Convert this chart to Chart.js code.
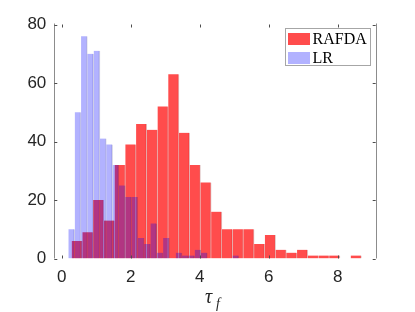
<!DOCTYPE html>
<html>
<head>
<meta charset="utf-8">
<script src="https://cdn.jsdelivr.net/npm/chart.js@4.4.1/dist/chart.umd.min.js"></script>
<style>
  html, body { margin: 0; padding: 0; background: #fff; }
  canvas { display: block; }
</style>
</head>
<body>
<canvas id="chart" width="415" height="312"></canvas>
<script>
// histogram counts, one entry per bin
const rafdaCounts = [6, 9, 20, 13, 32, 39, 46, 44, 52, 63, 43, 32, 26, 16, 10, 10, 10, 5, 8, 3, 2, 3, 1, 1, 1, 0, 1];
const lrCounts = [10, 50, 76, 70, 71, 41, 39, 32, 25, 21, 21, 7, 5, 12, 2, 7, 0, 2, 1, 1, 3, 2, 0, 0, 0, 0, 1];

// bin layout of each histogram (first edge and bin width, in tau_f units)
const rafdaBinStart = 0.29;
const rafdaBinWidth = 0.311;
const lrBinStart = 0.195;
const lrBinWidth = 0.183;

const seriesLabels = ['RAFDA', 'LR'];
const xTicks = [0, 2, 4, 6, 8];
const yTicks = [0, 20, 40, 60, 80];

const toBins = (counts, start, width) =>
    counts.map((c, i) => ({ x: start + width * (i + 0.5), y: c }));

const axisGray = '#8c8c8c';
const tickFont = { family: '"Liberation Sans", Arial, sans-serif', size: 17 };

// left/right axis lines plus inward tick marks (MATLAB style box)
const axisFrame = {
    id: 'axisFrame',
    afterDatasetsDraw(chart) {
        const { ctx, chartArea: a, scales } = chart;
        ctx.save();
        ctx.strokeStyle = axisGray;
        ctx.lineWidth = 1;
        ctx.beginPath();
        ctx.moveTo(Math.round(a.left) + 0.5, a.top - 1);
        ctx.lineTo(Math.round(a.left) + 0.5, a.bottom);
        ctx.moveTo(Math.round(a.right) + 0.5, a.top - 1);
        ctx.lineTo(Math.round(a.right) + 0.5, a.bottom);
        ctx.stroke();

        ctx.strokeStyle = '#4d4d4d';
        ctx.beginPath();
        xTicks.forEach(v => {
            const px = Math.round(scales.x.getPixelForValue(v)) + 0.5;
            ctx.moveTo(px, a.bottom);
            ctx.lineTo(px, a.bottom - 3);
            ctx.moveTo(px, a.top);
            ctx.lineTo(px, a.top + 3);
        });
        yTicks.forEach(v => {
            const py = Math.round(scales.y.getPixelForValue(v)) + 0.5;
            ctx.moveTo(a.left, py);
            ctx.lineTo(a.left + 3, py);
            ctx.moveTo(a.right, py);
            ctx.lineTo(a.right - 3, py);
        });
        ctx.stroke();
        ctx.restore();
    }
};

// boxed legend in the upper right corner
const boxLegend = {
    id: 'boxLegend',
    afterDraw(chart) {
        const { ctx } = chart;
        const sets = chart.data.datasets;
        ctx.save();
        ctx.fillStyle = '#fff';
        ctx.fillRect(285.5, 28.5, 85, 37);
        ctx.strokeStyle = '#a6a6a6';
        ctx.lineWidth = 1;
        ctx.strokeRect(285.5, 28.5, 85, 37);

        ctx.font = '16px "Liberation Serif", "Times New Roman", serif';
        ctx.textBaseline = 'middle';
        ctx.textAlign = 'left';
        sets.forEach((ds, i) => {
            const y = 33 + i * 19;
            ctx.fillStyle = ds.backgroundColor;
            ctx.fillRect(288, y, 22, 12);
            ctx.fillStyle = '#000';
            ctx.fillText(ds.label, 312.5, y + 6.5);
        });
        ctx.restore();
    }
};

// x axis title: tau with subscript f
const xTitle = {
    id: 'xTitle',
    afterDraw(chart) {
        const { ctx } = chart;
        ctx.save();
        ctx.fillStyle = '#262626';
        ctx.textBaseline = 'alphabetic';
        ctx.font = 'italic 20px "Liberation Serif", serif';
        ctx.fillText('τ', 205, 303);
        ctx.font = 'italic 14px "Liberation Serif", serif';
        ctx.fillText('f', 216, 308);
        ctx.restore();
    }
};

const fixedTicks = list => scale => {
    scale.ticks = list.map(v => ({ value: v }));
};

const ctx = document.getElementById('chart').getContext('2d');
new Chart(ctx, {
    type: 'bar',
    data: {
        datasets: [
            {
                label: seriesLabels[0],
                data: toBins(rafdaCounts, rafdaBinStart, rafdaBinWidth),
                xAxisID: 'x',
                backgroundColor: 'rgba(255, 0, 0, 0.7)',
                borderColor: 'rgba(120, 0, 0, 0.22)',
                borderWidth: { top: 0, right: 1, bottom: 0, left: 0 },
                barPercentage: 1,
                categoryPercentage: 1,
                grouped: false,
                order: 2
            },
            {
                label: seriesLabels[1],
                data: toBins(lrCounts, lrBinStart, lrBinWidth),
                xAxisID: 'x2',
                backgroundColor: 'rgba(0, 0, 255, 0.3)',
                borderColor: 'rgba(0, 0, 90, 0.15)',
                borderWidth: { top: 0, right: 1, bottom: 0, left: 0 },
                barPercentage: 1,
                categoryPercentage: 1,
                grouped: false,
                order: 1
            }
        ]
    },
    options: {
        responsive: false,
        animation: false,
        devicePixelRatio: 1,
        layout: { padding: { top: 24.5, right: 39.3, left: 0, bottom: 0 } },
        plugins: {
            legend: { display: false },
            tooltip: { enabled: false }
        },
        scales: {
            x: {
                type: 'linear',
                offset: false,
                min: -0.215,
                max: 9.1,
                grid: { display: false, drawTicks: false, offset: false },
                border: { display: false },
                afterBuildTicks: fixedTicks(xTicks),
                afterFit: s => { s.height = 53.5; },
                ticks: { font: tickFont, color: '#262626', padding: 9, maxRotation: 0, autoSkip: false }
            },
            x2: {
                type: 'linear',
                display: false,
                offset: false,
                min: -0.215,
                max: 9.1,
                grid: { offset: false },
                afterBuildTicks: fixedTicks(xTicks)
            },
            y: {
                min: 0,
                max: 80,
                grid: { display: false, drawTicks: false },
                border: { display: false },
                afterBuildTicks: fixedTicks(yTicks),
                afterFit: s => { s.width = 54.3; },
                ticks: { font: tickFont, color: '#262626', padding: 8 }
            }
        }
    },
    plugins: [axisFrame, boxLegend, xTitle]
});
</script>
</body>
</html>
